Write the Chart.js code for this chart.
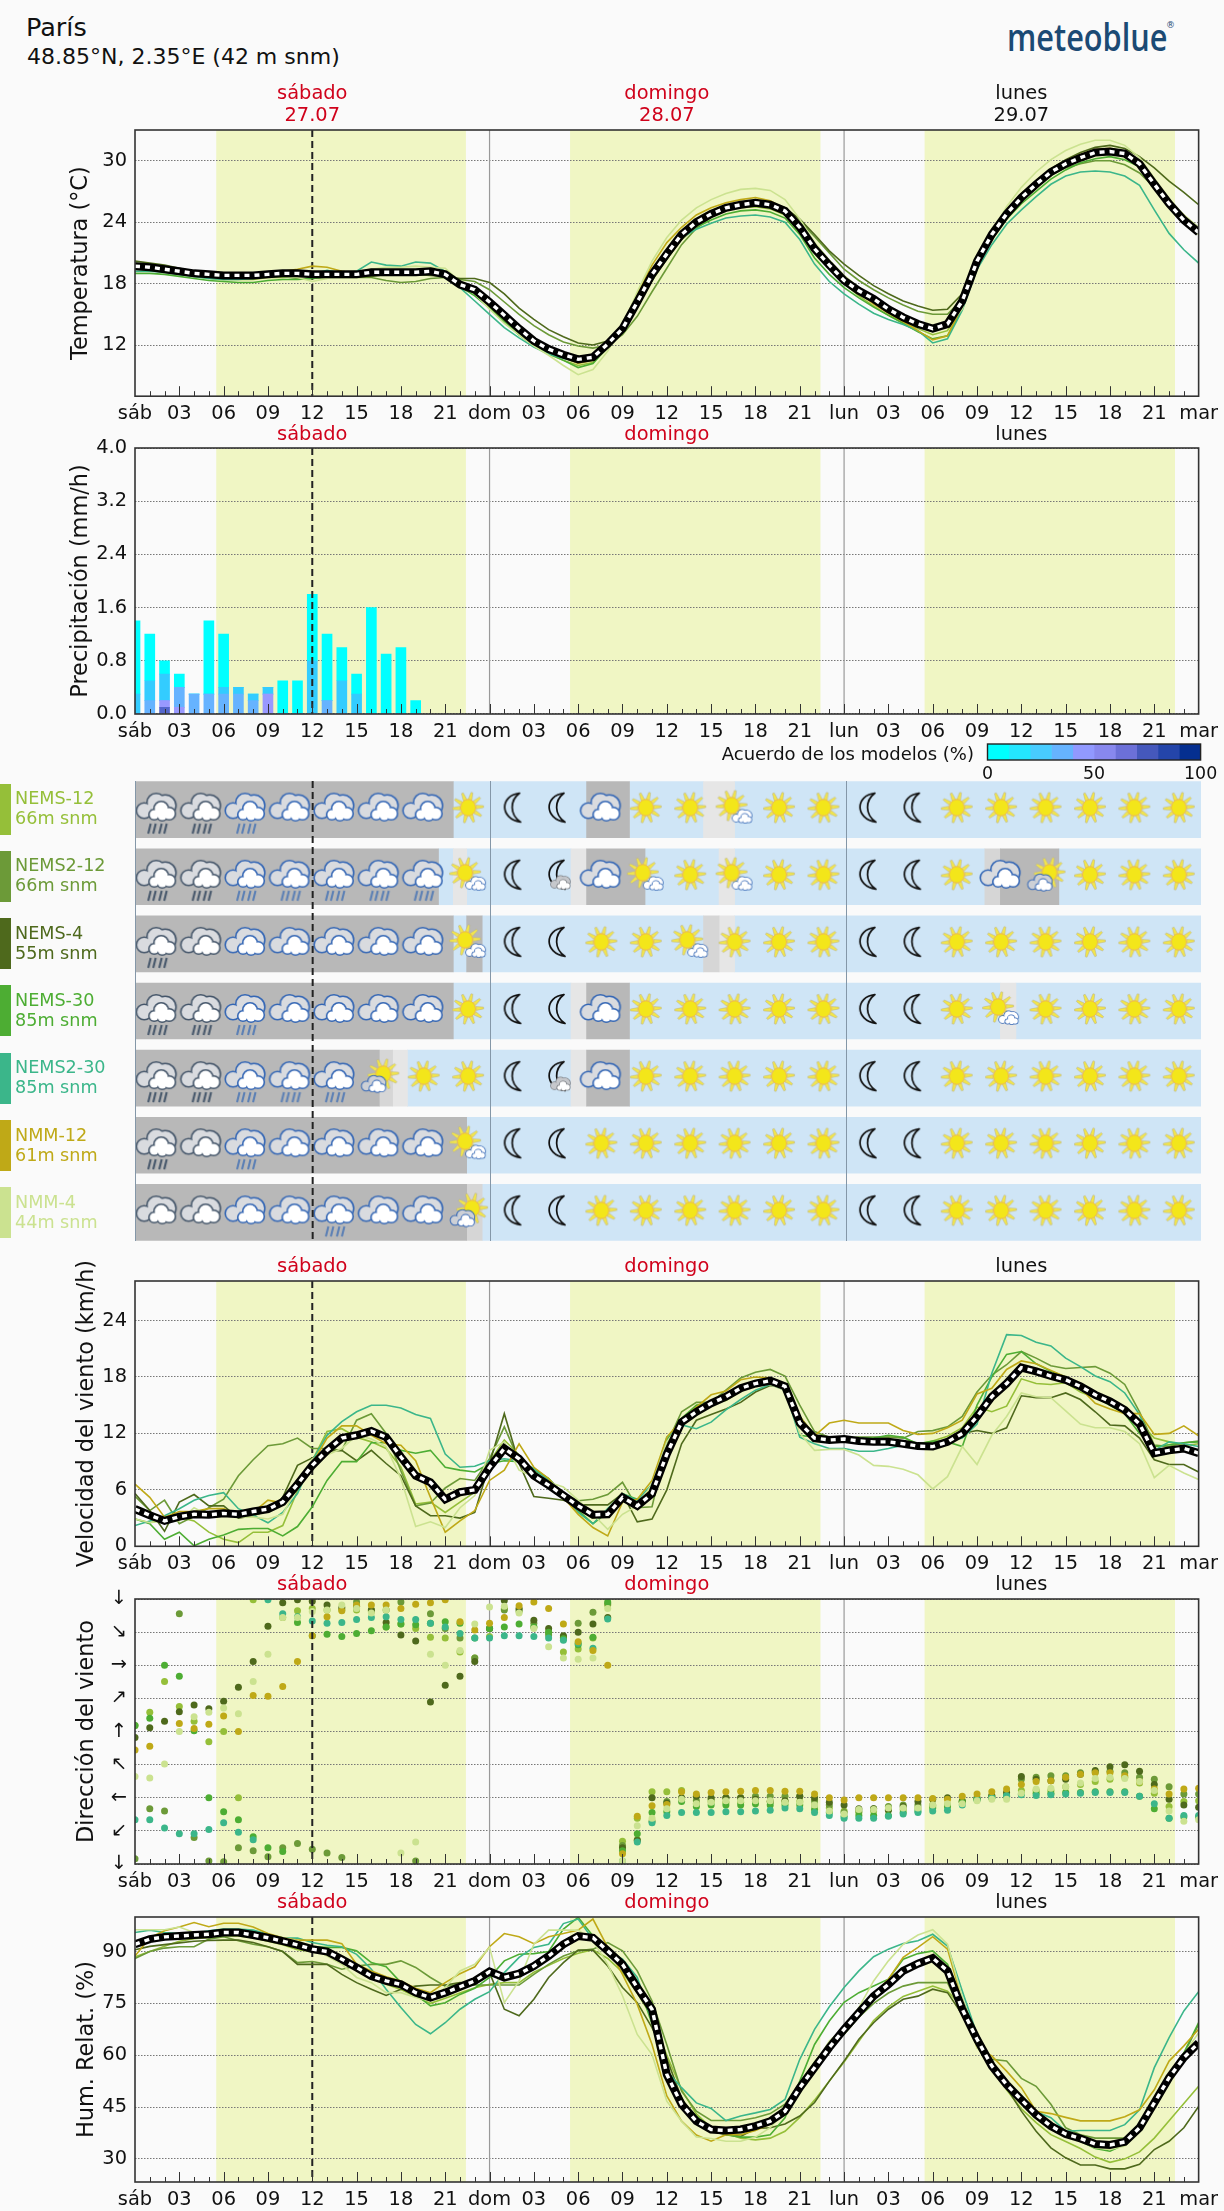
<!DOCTYPE html>
<html>
<head>
<meta charset="utf-8">
<title>París</title>
<script src="https://cdn.jsdelivr.net/npm/chart.js@4/dist/chart.umd.min.js"></script>
<style>
  html, body { margin: 0; padding: 0; background: #fafafa; overflow: hidden; }
  #page { position: relative; width: 1224px; height: 2211px; font-family: "DejaVu Sans", sans-serif; }
  canvas { position: absolute; left: 0; }
  .txt { position: absolute; white-space: nowrap; }
  .swatch { position: absolute; left: 0; width: 11px; height: 51px; }
</style>
</head>
<body>
<div id="page"></div>
<script>
// model names
var modelNames = ["NEMS-12", "NEMS2-12", "NEMS-4", "NEMS-30", "NEMS2-30", "NMM-12", "NMM-4"];
var modelHeights = ["66m snm", "66m snm", "55m snm", "85m snm", "85m snm", "61m snm", "44m snm"];
var modelColors = ["#95bf39", "#6c9a38", "#4e691c", "#4dad33", "#3bb68a", "#bfa917", "#cbe290"];

// tick labels
var xTickLabels = ["sáb","03","06","09","12","15","18","21","dom","03","06","09","12","15","18","21","lun","03","06","09","12","15","18","21","mar"];
var dayNames = ["sábado", "domingo", "lunes"];
var dayDates = ["27.07", "28.07", "29.07"];
var dayColors = ["#d0021b", "#d0021b", "#111111"];
var dayCenters = [12, 36, 60];
var sunBands = [[5.5, 22.4], [29.45, 46.4], [53.45, 70.4]];
var dayLines = [24, 48];
var nowHour = 12;

var tempTicks = [12, 18, 24, 30];
var precipTicks = [0, 0.8, 1.6, 2.4, 3.2, 4];
var windTicks = [0, 6, 12, 18, 24];
var dirTicks = [0, 45, 90, 135, 180, 225, 270, 315, 360];
var dirTickLabels = ["↓", "↙", "←", "↖", "↑", "↗", "→", "↘", "↓"];
var humTicks = [30, 45, 60, 75, 90];

// temperature, hourly
var tempMean = [19.7,19.6,19.4,19.2,19,18.9,18.8,18.8,18.8,18.9,19,19,18.9,18.9,18.9,18.9,19.1,19.1,19.1,19.1,19.2,18.9,17.9,17.4,16.2,14.9,13.6,12.4,11.6,11.05,10.6,10.8,12.1,13.6,16.2,18.9,20.9,22.8,24,24.8,25.4,25.7,25.9,25.7,25.1,23.5,21.4,19.8,18.3,17.3,16.5,15.5,14.7,14.05,13.6,14.05,16.3,20.2,22.8,24.8,26.4,27.7,28.9,29.7,30.3,30.8,30.9,30.7,29.7,27.7,25.8,24.2,23];
var tempNems12 = [19.4,19.3,19.1,18.9,18.7,18.5,18.4,18.4,18.4,18.6,18.6,18.7,18.9,19,18.9,19,19,19.2,19.3,19.3,19.4,19,17.9,17,15.8,14.3,13,11.9,11.1,10.5,10,10.3,11.7,13.5,16.4,19.3,21.3,23,24,24.7,25.2,25.4,25.5,25.3,24.7,23,21,19.5,18,16.8,15.8,14.9,14.2,13.6,13,13.4,15.7,19.8,22.6,24.8,26.5,27.9,29,29.9,30.5,30.9,31,30.6,29.5,27.5,25.5,24,22.8];
var tempNems212 = [20,19.9,19.7,19.4,19.2,19,18.9,18.9,19,19,18.7,18.5,18.5,18.6,18.6,18.6,18.6,18.3,18.1,18.2,18.5,18.6,18.4,18.2,17.4,16.2,15,13.9,13,12.3,11.9,11.7,12,13,14.8,17.2,19.5,21.8,23.4,24.5,25.3,25.8,26.1,25.9,25.4,24.1,22.6,21,19.4,18.3,17.4,16.6,15.9,15.3,15,15,16.5,20.3,22.6,24.6,26.2,27.5,28.6,29.3,29.7,30,30,29.6,28.8,27.4,26,24.6,23.3];
var tempNems4 = [20.2,20,19.8,19.5,19.2,19,18.9,18.9,19,19,19,18.9,18.7,18.7,18.7,18.7,18.7,18.9,19,18.9,18.8,18.7,18.5,18.5,18.1,17,15.6,14.5,13.5,12.8,12.2,12,12.4,13.5,15.8,18.3,20.4,22.3,23.6,24.6,25.3,25.7,25.9,25.8,25.4,24.3,22.8,21.2,19.9,18.8,17.8,17,16.3,15.8,15.4,15.5,17,20.2,22.8,25.1,26.7,28,29.2,30.1,30.8,31.3,31.5,31.2,30.4,29.3,28,26.9,25.7];
var tempNems30 = [19,19,18.9,18.7,18.5,18.3,18.2,18.1,18.1,18.3,18.4,18.4,18.5,18.7,18.7,18.9,19,19,19,19.2,19.3,19,17.7,16.8,15.6,14.3,13,12,11.2,10.5,9.8,10.2,11.8,13.8,16.5,19,21,22.6,23.5,24.2,24.8,25.1,25.2,25,24.4,22.8,20.5,18.9,17.6,16.6,15.7,14.9,14.1,13.3,12.6,12.9,15.6,19.8,22.3,24.3,25.8,27,28.2,29.1,29.8,30.2,30.4,30.1,29.4,27.7,25.6,24,23];
var tempNems230 = [19.2,19.2,19.1,18.9,18.7,18.5,18.4,18.4,18.5,18.7,18.8,18.9,18.9,19.3,19,19.2,20.1,19.8,19.7,20.1,20,19.2,17.6,16.3,15,13.7,12.7,11.8,11.1,10.7,10.3,10.7,12.1,14,16.2,18.8,20.9,22.5,23.3,23.9,24.4,24.6,24.7,24.5,24,22.3,19.9,18.2,17,16,15.1,14.5,14,13.4,12.2,12.6,15.4,19.4,21.8,23.8,25.2,26.5,27.7,28.5,28.9,29,28.9,28.5,27.6,25.2,22.9,21.3,20];
var tempNmm12 = [19.7,19.6,19.4,19.2,18.9,18.8,18.8,18.7,18.8,18.9,19.2,19.4,19.7,19.6,19.2,19,19.2,19.2,19.2,19.2,19.4,19,18,17.2,15.8,14.5,13.4,12.3,11.5,10.8,10.2,10.5,12,14,17,19.8,22,23.5,24.7,25.4,25.9,26.2,26.4,26.1,25.3,23.5,21.2,19.6,18.2,17.1,16,15.1,14.3,13.4,12.5,12.9,15.8,20.3,23,25.2,26.8,28,29.2,30,30.6,31.1,31.2,30.9,29.8,27.8,26,24.7,23.4];
var tempNmm4 = [19.5,19.4,19.2,19,18.9,18.8,18.7,18.6,18.6,18.7,18.7,18.6,18.2,18.5,18.9,19,19.4,19.6,19.6,19.7,19.6,19.5,18.2,17,15.5,14.1,13,11.9,11,10,9.1,9.6,11.4,13.8,17.2,20.2,22.5,24.2,25.4,26.2,26.8,27.2,27.3,27.1,26.2,24.3,22,20.3,18.8,17.6,16.5,15.6,14.7,13.9,13.3,13.8,15.5,20,23,25.5,27.4,28.9,30.1,31,31.6,32,32,31.5,30.3,28.3,26.3,24.7,23.5];

// precipitation, stacked by model agreement, hours 0-19
var precipIndigo = [0,0,0.1,0,0,0,0,0,0,0,0,0,0,0,0,0,0,0,0,0];
var precipViolet = [0,0,0.1,0.1,0,0,0,0,0,0.3,0,0,0,0,0,0,0,0,0,0];
var precipBlue = [0,0.2,0,0.3,0.3,0.3,0.3,0.3,0.2,0,0,0,0,0.2,0,0,0,0,0,0];
var precipSky = [0.3,0.3,0.4,0,0,0,0.1,0.1,0.1,0.1,0,0,0.8,0,0.5,0.3,0,0,0,0];
var precipCyan = [1.1,0.7,0.2,0.2,0,1.1,0.8,0,0,0,0.5,0.5,1,1,0.5,0.3,1.6,0.9,1,0.2];

// model agreement colour bar
var agreementBins = [10,10,10,10,10,10,10,10,10,10];
var agreementColors = ["#00ffff","#24e6ff","#48ccff","#66b3ff","#9199ff","#8888ee","#6c70d8","#4558bc","#2445aa","#052f90"];
var agreementTicks = [0, 50, 100];

// weather cells per model: boundaries in hours and state of each stretch
var cellBounds = [
  [0,21.5,30.5,33.4,38.4,40.5,72],
  [0,20.5,21.5,22.4,29.45,30.5,34.45,39.45,40.5,57.4,58.45,62.4,72],
  [0,21.5,22.4,23.45,38.4,39.45,40.5,72],
  [0,21.5,29.45,30.5,33.4,58.45,59.5,72],
  [0,16.5,17.4,18.4,29.45,30.5,33.4,72],
  [0,22.4,72],
  [0,22.4,23.45,72]
];
var cellStates = [
  ["dark","blue","dark","blue","light","blue"],
  ["dark","blue","light","blue","light","dark","blue","light","blue","mid","dark","blue"],
  ["dark","blue","dark","blue","mid","light","blue"],
  ["dark","blue","light","dark","blue","light","blue"],
  ["dark","mid","light","blue","light","dark","blue"],
  ["dark","blue"],
  ["dark","mid","blue"]
];
// weather icon per model, every three hours
var iconHours = [1.5,4.5,7.5,10.5,13.5,16.5,19.5,22.5,25.5,28.5,31.5,34.5,37.5,40.5,43.5,46.5,49.5,52.5,55.5,58.5,61.5,64.5,67.5,70.5];
var iconCodes = [
  ["R","R","r","c","c","c","c","S","M","M","c","S","S","s","S","S","M","M","S","S","S","S","S","S"],
  ["R","R","r","r","r","r","r","s","M","m","c","s","S","s","S","S","M","M","S","c","l","S","S","S"],
  ["R","C","c","c","c","c","c","s","M","M","S","S","s","S","S","S","M","M","S","S","S","S","S","S"],
  ["R","R","r","c","c","c","c","S","M","M","c","S","S","S","S","S","M","M","S","s","S","S","S","S"],
  ["R","R","r","r","r","l","S","S","M","m","c","S","S","S","S","S","M","M","S","S","S","S","S","S"],
  ["R","C","r","c","c","c","c","s","M","M","S","S","S","S","S","S","M","M","S","S","S","S","S","S"],
  ["C","C","c","c","r","c","c","l","M","M","S","S","S","S","S","S","M","M","S","S","S","S","S","S"]
];

// wind speed, hourly
var windMean = [3.96,3.3,2.7,3.15,3.4,3.35,3.5,3.4,3.7,3.95,4.7,6.6,8.6,10.2,11.5,11.8,12.25,11.6,9.5,7.5,6.8,5,5.75,6,8.4,10.4,9.3,7.5,6.5,5.4,4.3,3.35,3.4,5.2,4.3,5.6,9.8,13.2,14.3,15.2,15.9,16.8,17.3,17.6,17,13.1,11.5,11.3,11.4,11.2,11.1,11.1,10.9,10.65,10.6,11.1,12,13.8,15.9,17.3,19,18.6,18.1,17.7,17,16.1,15.4,14.5,13,9.9,10.2,10.4,9.9];
var windNems12 = [2.9,2.5,2.9,3.1,2.7,1.5,0.75,0.4,1.5,1.5,2.2,5.9,9.1,12.2,12.5,11.6,11.1,10.4,8.4,4.5,4.7,3.6,4.7,5.75,9,11.3,9.7,8,6.8,5.5,4.2,3,3.3,5.2,4.4,6.2,10.5,13.4,15,15.2,15.5,16.5,17.2,17.6,16.9,13.3,11.7,11.5,11.4,11.4,11.5,11.6,11.6,10.8,11.2,11.7,12.6,14.8,14.3,14.9,17.8,17.3,17.2,17.4,16.4,15.8,15.2,14.4,13.2,11.5,11.1,10.7,10.9];
var windNems212 = [5.3,3.8,4.9,2.4,3.2,4.1,5,7.5,9.2,10.7,10.9,11.5,10.4,10.4,10.2,13.4,14.1,12,8,4.3,4.6,6.2,7.2,7,9.3,12.7,9.1,8.25,7.2,5.6,4.85,5,5.5,6.8,4.1,4.2,10.9,14.3,15.3,15.3,16.6,17.9,18.5,18.8,18.1,15,12.2,11.6,11.5,11.6,11.6,11.6,11.5,12.2,12.3,12.7,13.8,16.4,18.2,19.3,20.7,20,19.2,18.9,19,19.1,18.4,17.2,14.3,10.75,10.6,11,11.2];
var windNems4 = [5.6,3.8,1.6,4.7,5.5,4.3,4.3,3,3.25,3.8,5.2,8.6,9.4,10.1,10.2,9.1,10.2,8.8,7.5,4.3,3.25,3.25,3,3.6,8.8,14.1,8.8,5.3,5.1,4.9,4.4,4.4,4.4,5.6,2.6,2.9,6,10.9,13.4,14,14.6,15.3,16.4,17.1,16.9,13.8,11.8,11.3,11.2,11.1,10.9,10.9,11.2,10.7,11.1,11.2,12,12.3,12,12.6,16,15.8,15.8,16.3,15.6,14.3,12.9,12.8,11.5,9.2,8.7,8.7,7.9];
var windNems30 = [2.9,2.4,0.75,1.5,0.05,0.75,1.2,1.8,1.9,1.9,1.1,2.1,4.2,7,9,9,11,11,10.2,9.9,10.2,8.4,8.1,7.9,8.8,9.1,9,8.1,7.2,5.4,3.8,2.4,3.6,5.6,5,5.4,11.3,13.6,15,15.2,15.7,16.8,17.5,17.9,17,11.8,11.6,11.6,11.5,11.5,11.5,11.8,11.6,10.9,11.2,11.1,10.6,15,18,20.4,20.7,19.4,18.6,18,16.8,15.9,15,14.1,12,10.6,10.8,11,11.1];
var windNems230 = [2.2,2.7,3.25,4,4.9,5.4,5.7,4,3.3,2.5,3.6,5.6,9.1,11.8,13.25,14.3,15,15,14.7,14,13.6,9.8,8.4,8.5,9.1,9.3,9.1,8.25,7,5.4,3.6,2.4,4,5.6,4.9,6.6,11.6,12.9,12.5,13.2,14.5,15.6,16.6,17.2,16.6,11.6,10.9,10.4,10.4,10.1,10.1,10.4,10.75,10.9,10.9,11.1,11.5,13,18.4,22.5,22.4,21.7,21.3,20,19.1,18.1,17.5,16.3,14,10.2,11.1,10.9,10.6];
var windNmm12 = [6.6,5.2,3.1,3.7,3.7,4,4,3.1,3.6,4.9,4.6,7,8.8,11.5,12.8,12.8,11.8,10.9,10.75,9.1,5.2,1.5,2.7,3.8,7,8.1,10.9,8.4,7.2,5.2,3.4,2,1.1,4.7,5,7,11.6,13.4,14.8,16.1,16.5,17.7,18,17.9,17,13.8,11.75,13.1,13.4,13.1,13.1,13.1,12.3,11.9,12,12.6,13.4,16.2,16.8,18.8,19.7,19.4,18.7,18,16.8,15.2,14.6,14.1,14.1,11.9,12,12.8,11.75];
var windNmm4 = [2.9,2.5,2.7,2.7,4.1,3.25,3.4,3.1,3.1,2.9,3.4,6.3,9.3,9.7,10.4,11.8,11.4,10.6,7.2,2.1,2.6,2,4.1,5.4,10.2,11.1,8.1,7.4,6.8,6.3,4.9,3.4,1.8,3.4,4.3,6.6,11.1,13.2,14.3,15.2,15.9,17,17.3,17.2,16.6,12,10.2,10.3,10.3,9.7,8.6,8.5,8.2,7.6,6.1,7.4,10.6,8.7,11.8,13.8,16.3,15.9,15.8,14.4,13,12.6,12.6,12.2,10.9,7.3,8.6,7.8,7.1];

// wind direction in degrees, hourly
var dirNems12 = [188,206,248,214,194,166,180,90,359,null,335,344,347,345,345,345,343,322,326,320,308,307,288,280,309,347,343,322,315,288,292,307,352,31,62,98,98,100,82,85,84,84,85,85,85,85,80,76,72,70,72,74,74,76,78,80,85,88,90,92,100,100,100,105,108,112,115,118,110,96,78,85,86];
var dirNems212 = [7,75,72,340,36,4,3,22,18,10,22,28,20,15,9,356,345,345,356,4,340,320,307,280,320,345,345,327,311,308,327,342,354,25,33,58,85,88,86,88,90,90,92,92,92,92,86,80,70,72,75,78,80,80,80,80,86,90,92,95,115,118,120,120,124,125,126,124,118,115,105,95,95];
var dirNems4 = [172,185,194,207,216,211,221,240,275,323,355,359,357,352,348,350,345,328,311,303,220,243,255,275,320,358,347,331,320,310,315,326,335,22,32,90,83,90,92,90,90,90,88,85,86,92,90,84,80,75,75,73,78,85,88,90,85,88,93,97,119,115,113,115,122,127,132,135,126,108,88,80,77];
var dirNems30 = [188,198,270,255,181,90,71,60,37,22,17,328,310,312,309,313,317,322,326,325,327,329,327,307,320,322,326,322,315,306,298,308,356,18,41,70,71,85,78,80,80,80,82,80,80,80,74,70,65,66,66,66,70,72,76,78,84,88,90,92,95,96,96,97,97,98,98,98,92,75,62,64,64];
var dirNems230 = [60,60,49,41,41,47,56,43,33,359,340,336,330,327,328,332,335,336,332,332,327,322,313,307,307,310,310,309,307,304,300,293,333,4,30,56,66,70,70,70,71,71,72,73,76,75,70,66,62,62,62,65,68,70,72,73,80,87,90,93,94,93,94,95,96,97,97,97,92,82,62,66,66];
var dirNmm12 = [155,160,null,191,184,190,201,180,229,228,241,275,310,336,344,352,352,352,347,353,355,359,329,318,327,335,351,356,347,326,302,290,270,14,65,79,81,98,95,97,98,99,100,100,99,99,95,90,87,90,90,90,90,90,89,88,92,95,98,102,108,112,113,118,122,124,124,120,112,102,95,102,103];
var dirNmm4 = [119,117,136,180,200,206,212,204,248,285,335,335,343,345,352,347,341,345,15,30,285,270,290,326,349,350,341,320,295,280,278,280,347,4,52,62,75,88,82,84,86,86,86,86,84,84,80,72,68,74,74,76,76,76,80,82,82,86,88,88,96,102,103,105,110,116,118,116,112,100,72,58,60];

// relative humidity, hourly
var humMean = [92.1,93.6,94.25,94.5,94.8,95,95.5,95.5,94.8,94,93,91.9,90.7,90,87.8,85.4,82.9,81.5,80.5,78.1,76.7,78.1,79.8,81.5,84.2,82.5,83.6,85.8,88.7,92.1,94.5,94,90.2,86.3,79.6,73.3,54.4,45.8,40.9,38.5,38.2,38.5,39.5,40.9,43.8,50.6,56.4,62.2,67.5,72.3,77.1,80.5,84.4,86.5,88.1,84.4,73.3,64.6,56.9,51.5,47.1,42.8,39.5,37.2,35.9,34.3,34,34.9,39,46.2,53.5,59.3,63.6];
var humNems12 = [88.5,90,91.5,93,93.7,94,94.5,94.5,94,93,92,90.5,90,89.5,88,85.5,83,80.5,79,77,75,76.5,78,79.5,80.5,81,81,84,86,88,89.5,90.5,88,84,78,71,60,50,43,39,37.5,36,35.5,36,38,42,47,52.5,58,64,70,74,77,78.5,80,78.5,74,66,58,50,44.5,40.5,37,35,33,30.5,29,30,32,36,41,46,51];
var humNems212 = [88,90,91,91.4,91.4,93.6,94.3,93.1,92.1,91.4,90,86.8,87.1,86.3,84.9,85.8,86.3,86.3,87.3,85.4,82.5,80,80.5,80.3,80.3,80.3,80.3,83.4,86.3,88.7,90.2,90.7,92.6,90.2,84.4,75.7,63,49.6,43.8,41.1,41.1,41.1,41.9,43.1,45.8,52,58,63,66,71,75,78,80,81,81,81,72,64.5,58.8,58.3,53.3,51,45.8,39,37,36,36,36,40,46.7,53.5,60.2,69];
var humNems4 = [90.5,91.5,92,92.5,93,93.2,93.3,93.3,92.6,91.4,90,86.3,86.3,86.3,83.4,81,79.1,77.3,79.1,80,80.3,80.3,81,80.5,83.9,73.3,71.4,76.2,82.5,86.8,90.4,90.4,85.8,79.6,75.2,68,59,47.5,41.5,38,37,36.5,38.8,39,40.1,42.4,46.3,52.5,58.3,64.6,69.4,73.3,76.2,77.1,79.1,78.1,71.8,65,57.3,50.6,43.8,38,33.2,30.3,28.2,28.2,27.1,27.1,28.4,32.7,35.1,39,45.2];
var humNems30 = [92,93,94,95,95,95.5,96,96,96,94.5,93,92,91.4,91.2,91.2,90.2,86.8,85.6,81,77.6,74.3,75.2,77.6,79.4,82.5,87.3,89.2,89.4,90,96.5,99.9,94.5,91.2,87.3,81.5,69,55.4,46.7,42.4,39,37,36.3,36.3,37,41.9,52.5,63.1,69.9,75.3,78.1,80,82,87.8,89.4,90.2,86.3,76.2,65.6,57.3,51.5,46.1,42.8,40.4,37.5,35.1,33,32.2,34.2,39.5,46.7,53.5,60.7,69.4];
var humNems230 = [95.5,96.2,95.5,95.2,95.2,96,96.5,96.5,96.2,95,94,93.9,92.6,91.8,91.4,89.2,84.9,79.1,73.8,68.9,66.2,69.4,73.3,76.2,78.4,83.9,88.3,91.2,92.1,98.1,99.4,93.6,90.2,87.8,82.5,69.9,55.4,50.6,46.2,44.6,41.1,42.4,43.3,44.3,47.2,58.8,67.5,74,79.6,84.4,88.5,90.7,92.3,93.1,95,91.6,78.6,66,57.3,51.5,47.1,43.6,41.9,38,38.2,38.2,38.2,39.9,44.2,56.4,65.1,72.8,78.4];
var humNmm12 = [88.7,94,96,97.1,98.4,97.2,98.2,98.2,97.1,95.2,94,93.3,93.3,93.3,92.3,86.3,84.4,82.7,81.5,79.4,78.1,81,83.6,85.6,91.4,95.2,94.3,92.3,94.3,95.2,96.2,99.4,91.2,83.4,74.7,63.1,48.2,40.9,36.9,35.1,37,37,38.2,40.1,43.2,50.6,56.4,62.2,67.5,72.8,77.6,82,88.3,91.2,94.3,90.7,75.8,62.2,59.8,55.4,50.6,43.8,43.1,42,41,41,41,42.2,44.2,50,58.3,62.7,67.5];
var humNmm4 = [96.3,96.3,96.3,97.1,95.5,95.5,95,95.2,95.2,94,93.9,93.1,91.2,88.7,86.3,82.5,81,78.1,78.1,76.7,75.7,79.6,84.4,86.3,91.2,75.2,81.5,92.1,96.2,96.2,96.2,93.1,86.3,77.2,66,60.2,46.7,40.9,36.3,35.9,35.1,35.1,36.3,39,43.8,50.6,57.3,64.1,68,73.8,81.5,87.3,92.1,94.8,96.3,92.1,76.7,62.2,57.3,52.5,46.7,43.3,39.5,37,35.1,33.2,32.7,33.7,38.1,44.8,52.6,60.2,66.5];

var page = document.getElementById("page");
var tickFont = { family: "DejaVu Sans", size: 19.4 };
var titleFont = { family: "DejaVu Sans", size: 22.4 };
var inkColor = "#111111";
Chart.defaults.animation = false;
Chart.defaults.responsive = false;
Chart.defaults.plugins.legend.display = false;
Chart.defaults.plugins.tooltip.enabled = false;

function addText(text, x, yCenter, size, color, align, extra) {
  var el = document.createElement("div");
  el.className = "txt";
  el.textContent = text;
  el.style.fontSize = size + "px";
  el.style.color = color;
  el.style.lineHeight = "30px";
  el.style.top = (yCenter - 15) + "px";
  if (align === "right") el.style.right = (1224 - x) + "px";
  else el.style.left = x + "px";
  if (extra) Object.assign(el.style, extra);
  page.appendChild(el);
  return el;
}

function addCanvas(top, height) {
  var c = document.createElement("canvas");
  c.width = 1224;
  c.height = height;
  c.style.top = top + "px";
  page.appendChild(c);
  return c;
}

function toPoints(values) {
  return values.map(function (y, x) { return { x: x, y: y }; });
}

function drawNow(chart, o) {
  var ctx = chart.ctx, a = chart.chartArea, px = chart.scales.x.getPixelForValue(nowHour);
  var top = o.lineTop === undefined ? a.top : o.lineTop;
  var bottom = o.lineBottom === undefined ? a.bottom : o.lineBottom;
  ctx.save();
  ctx.strokeStyle = "#222222";
  ctx.lineWidth = 2;
  ctx.setLineDash([7, 4]);
  ctx.beginPath();
  ctx.moveTo(px, top);
  ctx.lineTo(px, bottom);
  ctx.stroke();
  ctx.restore();
}

// background bands, day lines, hour ticks, frame and day names of a panel
var panelPlugin = {
  id: "panel",
  beforeDraw: function (chart, args, o) {
    if (!o.bands) return;
    var ctx = chart.ctx, a = chart.chartArea, x = chart.scales.x;
    ctx.save();
    ctx.fillStyle = "#f0f6c4";
    sunBands.forEach(function (b) {
      var x0 = x.getPixelForValue(b[0]), x1 = x.getPixelForValue(b[1]);
      ctx.fillRect(x0, a.top, x1 - x0, a.bottom - a.top);
    });
    ctx.restore();
  },
  beforeDatasetsDraw: function (chart, args, o) {
    var ctx = chart.ctx, a = chart.chartArea, x = chart.scales.x;
    if (!o.nowOnTop) drawNow(chart, o);
    ctx.save();
    ctx.strokeStyle = "#999999";
    ctx.lineWidth = 1.2;
    dayLines.forEach(function (h) {
      ctx.beginPath();
      ctx.moveTo(x.getPixelForValue(h), a.top);
      ctx.lineTo(x.getPixelForValue(h), a.bottom);
      ctx.stroke();
    });
    ctx.restore();
  },
  afterDatasetsDraw: function (chart, args, o) {
    var ctx = chart.ctx, a = chart.chartArea, x = chart.scales.x;
    if (o.nowOnTop) drawNow(chart, o);
    ctx.save();
    ctx.strokeStyle = "#333333";
    ctx.lineWidth = 1;
    for (var h = 1; h < 72; h++) {
      var px = Math.round(x.getPixelForValue(h)) + 0.5;
      ctx.beginPath();
      ctx.moveTo(px, a.bottom);
      ctx.lineTo(px, a.bottom - (h % 3 === 0 ? 10 : 5));
      ctx.stroke();
    }
    ctx.lineWidth = 1.6;
    ctx.strokeRect(a.left, a.top, a.right - a.left, a.bottom - a.top);
    ctx.restore();
  },
  afterDraw: function (chart, args, o) {
    var ctx = chart.ctx, x = chart.scales.x;
    ctx.save();
    ctx.font = "19.4px 'DejaVu Sans'";
    ctx.textAlign = "center";
    ctx.textBaseline = "middle";
    dayNames.forEach(function (name, i) {
      ctx.fillStyle = dayColors[i];
      ctx.fillText(name, x.getPixelForValue(dayCenters[i]), o.dayY);
      if (o.dateY) ctx.fillText(dayDates[i], x.getPixelForValue(dayCenters[i]), o.dateY);
    });
    ctx.restore();
  }
};

// one time panel; plotTop and plotBottom are page pixels of the axes box
function timePanel(plotTop, plotBottom, padTop, yMin, yMax, ticks, tickText, title, titleX, datasets, type, panelOpts) {
  var plotH = plotBottom - plotTop, below = 40;
  var height = Math.round(padTop + plotH + below);
  var canvas = addCanvas(plotTop - padTop, height);
  return new Chart(canvas.getContext("2d"), {
    type: type,
    data: { datasets: datasets },
    plugins: [panelPlugin],
    options: {
      layout: { padding: { top: padTop, right: 23, left: 0, bottom: 0 } },
      plugins: { panel: panelOpts },
      scales: {
        x: {
          type: "linear",
          min: 0,
          max: 72,
          offset: false,
          afterFit: function (s) { s.height = height - padTop - plotH; },
          grid: { display: false, drawTicks: false },
          border: { display: false },
          ticks: {
            stepSize: 3,
            autoSkip: false,
            maxRotation: 0,
            padding: 6,
            color: inkColor,
            font: tickFont,
            callback: function (v) { return xTickLabels[v / 3]; }
          }
        },
        y: {
          type: "linear",
          min: yMin,
          max: yMax,
          stacked: type === "bar",
          afterFit: function (s) { s.width = 135; },
          afterBuildTicks: function (s) { s.ticks = ticks.map(function (v) { return { value: v }; }); },
          grid: { color: "#777777", lineWidth: 1, drawTicks: false },
          border: { display: false, dash: [1.5, 1.5] },
          title: { display: true, text: title, color: inkColor, font: titleFont, padding: { top: titleX - 12, bottom: 0 } },
          ticks: {
            padding: 8,
            autoSkip: false,
            color: inkColor,
            font: tickFont,
            callback: function (v, i) { return tickText(v, i); }
          }
        }
      }
    }
  });
}

// Chart.js paints the lowest order last, so later models get a lower order
function lineDatasets(series, mean) {
  var sets = series.map(function (values, i) {
    return { data: toPoints(values), borderColor: modelColors[i], borderWidth: 1.6, pointRadius: 0, tension: 0, order: 9 - i };
  });
  sets.push({ data: toPoints(mean), borderColor: "#000000", borderWidth: 8, pointRadius: 0, tension: 0, order: 1 });
  sets.push({ data: toPoints(mean), borderColor: "#ffffff", borderWidth: 3.4, borderDash: [5, 5], pointRadius: 0, tension: 0, order: 0 });
  return sets;
}

// header
addText("París", 26, 27, 25.5, inkColor);
addText("48.85°N, 2.35°E (42 m snm)", 27, 57, 22, inkColor);
addText("meteoblue", 1007, 37, 37, "#1b4a74", "left", {
  fontFamily: "'Open Sans'", fontWeight: "600", transformOrigin: "left center", transform: "scaleX(0.83)"
});
addText("®", 1166, 25, 9, "#1b4a74");

// temperature
timePanel(129.5, 395.7, 60, 7, 33, tempTicks, function (v) { return String(v); },
  "Temperatura (°C)", 80,
  lineDatasets([tempNems12, tempNems212, tempNems4, tempNems30, tempNems230, tempNmm12, tempNmm4], tempMean),
  "line", { bands: true, dayY: 24.2, dateY: 45.5 });

// precipitation
var precipLayers = [
  { values: precipIndigo, color: "#5566cc" },
  { values: precipViolet, color: "#9999ff" },
  { values: precipBlue, color: "#66b3ff" },
  { values: precipSky, color: "#33ccff" },
  { values: precipCyan, color: "#00ffff" }
];
timePanel(448.3, 714.3, 30, 0, 4, precipTicks, function (v) { return v.toFixed(1); },
  "Precipitación (mm/h)", 80,
  precipLayers.map(function (layer) {
    return { data: toPoints(layer.values), backgroundColor: layer.color, barThickness: 10, stack: "precip" };
  }),
  "bar", { bands: true, nowOnTop: true, dayY: 16.7 });

// colour bar of the model agreement
addText("Acuerdo de los modelos (%)", 974, 754, 18, inkColor, "right");
new Chart(addCanvas(738, 48).getContext("2d"), {
  type: "bar",
  data: {
    labels: [""],
    datasets: agreementBins.map(function (bin, i) {
      return { data: [bin], backgroundColor: agreementColors[i], barPercentage: 1, categoryPercentage: 1, stack: "bar" };
    })
  },
  plugins: [{
    id: "barFrame",
    afterDraw: function (chart) {
      var a = chart.chartArea, ctx = chart.ctx;
      ctx.save();
      ctx.strokeStyle = "#222222";
      ctx.lineWidth = 1.4;
      ctx.strokeRect(a.left, a.top, a.right - a.left, a.bottom - a.top);
      ctx.restore();
    }
  }],
  options: {
    indexAxis: "y",
    layout: { padding: { left: 987.5, right: 23.4, top: 6, bottom: 0 } },
    scales: {
      x: {
        type: "linear",
        min: 0,
        max: 100,
        stacked: true,
        afterFit: function (s) { s.height = 26; },
        afterBuildTicks: function (s) { s.ticks = agreementTicks.map(function (v) { return { value: v }; }); },
        grid: { display: false, drawTicks: false },
        border: { display: false },
        ticks: { padding: 4, color: inkColor, font: { family: "DejaVu Sans", size: 17.4 }, maxRotation: 0, autoSkip: false }
      },
      y: { display: false, stacked: true }
    }
  }
});

// weather icons as point styles
function blob(g, circles, fill, stroke, lw) {
  g.strokeStyle = stroke;
  g.lineWidth = lw * 2;
  circles.forEach(function (c) { g.beginPath(); g.arc(c[0], c[1], c[2], 0, Math.PI * 2); g.stroke(); });
  g.fillStyle = fill;
  circles.forEach(function (c) { g.beginPath(); g.arc(c[0], c[1], c[2], 0, Math.PI * 2); g.fill(); });
}
function cloud(g, x, y, s, backFill, stroke) {
  g.save();
  g.translate(x, y);
  g.scale(s, s);
  blob(g, [[-13, 3, 7], [-1, -5, 8.5], [8, -2, 10]], backFill, stroke, 1.6);
  blob(g, [[-3, 7, 4.5], [4, 1, 6.5], [12, 6, 5.5], [5, 8, 4.5]], "#ffffff", stroke, 1.6);
  g.restore();
}
function rain(g, color) {
  g.strokeStyle = color;
  g.lineWidth = 2;
  [-8, -3, 3, 8].forEach(function (x) {
    g.beginPath();
    g.moveTo(x + 1.5, 16);
    g.lineTo(x - 1, 26);
    g.stroke();
  });
}
function sun(g, x, y) {
  g.save();
  g.translate(x, y);
  for (var k = 0; k < 10; k++) {
    g.save();
    g.rotate(k * Math.PI / 5 + 0.25);
    g.fillStyle = "#f3e64a";
    g.strokeStyle = "#b7b18a";
    g.lineWidth = 0.5;
    g.beginPath();
    g.moveTo(-1.9, -8);
    g.lineTo(1.9, -8);
    g.lineTo(0.9, -15.5);
    g.lineTo(-0.9, -15.5);
    g.closePath();
    g.fill();
    g.stroke();
    g.restore();
  }
  g.fillStyle = "#f3e61a";
  g.strokeStyle = "#efb94a";
  g.lineWidth = 1;
  g.beginPath();
  g.ellipse(0, 0, 7.5, 8.2, 0, 0, Math.PI * 2);
  g.fill();
  g.stroke();
  g.restore();
}
function moon(g) {
  g.strokeStyle = "#111111";
  g.lineWidth = 1.7;
  g.lineJoin = "round";
  g.beginPath();
  g.moveTo(7, -14.5);
  g.bezierCurveTo(-13, -12, -13, 11, 8, 14.5);
  g.bezierCurveTo(-3, 7, -3, -7, 7, -14.5);
  g.closePath();
  g.stroke();
}
function makeIcon(code) {
  var c = document.createElement("canvas");
  c.width = 64;
  c.height = 64;
  var g = c.getContext("2d");
  g.translate(32, 30);
  if (code === "R") { cloud(g, 0, 0, 1, "#d9dbdf", "#45566a"); rain(g, "#45566a"); }
  if (code === "r") { cloud(g, 0, 0, 1, "#d9dbdf", "#3567b5"); rain(g, "#5a7fb5"); }
  if (code === "C") cloud(g, 0, 0, 1, "#d9dbdf", "#45566a");
  if (code === "c") cloud(g, 0, 0, 1, "#d9dbdf", "#3567b5");
  if (code === "S") sun(g, 0, 0);
  if (code === "s") { sun(g, -3, -2); cloud(g, 8, 9, 0.5, "#ffffff", "#3567b5"); }
  if (code === "l") { sun(g, 4, -2); cloud(g, -5, 8, 0.62, "#cdd0d6", "#3567b5"); }
  if (code === "M") moon(g);
  if (code === "m") { moon(g); cloud(g, 4, 8, 0.5, "#c6c8cc", "#7c7f84"); }
  return c;
}
var iconCache = {};
function iconFor(code) {
  if (!iconCache[code]) iconCache[code] = makeIcon(code);
  return iconCache[code];
}

// weather rows
var stateColors = { dark: "#b8b8b8", mid: "#d6d6d6", light: "#e6e6e6", blue: "#cfe5f6" };
var rowSets = [];
Object.keys(stateColors).forEach(function (state) {
  var segments = [];
  cellStates.forEach(function (row, r) {
    row.forEach(function (s, i) {
      if (s === state) segments.push({ x: [cellBounds[r][i], cellBounds[r][i + 1]], y: modelNames[r] });
    });
  });
  rowSets.push({
    type: "bar",
    indexAxis: "y",
    data: segments,
    backgroundColor: stateColors[state],
    barThickness: 56,
    grouped: false,
    order: 2
  });
});
iconCodes.forEach(function (codes, r) {
  rowSets.push({
    type: "scatter",
    data: codes.map(function (code, i) { return { x: iconHours[i], y: modelNames[r] }; }),
    pointStyle: codes.map(iconFor),
    pointRadius: 5,
    order: 1
  });
});
new Chart(addCanvas(770, 482).getContext("2d"), {
  type: "bar",
  data: { labels: modelNames, datasets: rowSets },
  plugins: [{
    id: "rowLines",
    afterDatasetsDraw: function (chart) {
      var ctx = chart.ctx, x = chart.scales.x;
      ctx.save();
      ctx.strokeStyle = "#8497a8";
      ctx.lineWidth = 1;
      [0, 24, 48].forEach(function (h) {
        var px = Math.round(x.getPixelForValue(h)) + 0.5;
        ctx.beginPath();
        ctx.moveTo(px, 11);
        ctx.lineTo(px, 471);
        ctx.stroke();
      });
      ctx.restore();
      drawNow(chart, { lineTop: 11, lineBottom: 471 });
    }
  }],
  options: {
    layout: { padding: { left: 135, right: 23, top: 5.33, bottom: 5.33 } },
    scales: {
      x: { type: "linear", min: 0, max: 72, offset: false, display: false },
      y: { type: "category", labels: modelNames, offset: true, display: false }
    }
  }
});

// model legend
modelNames.forEach(function (name, i) {
  var center = 809 + i * 67.33;
  var sw = document.createElement("div");
  sw.className = "swatch";
  sw.style.top = (center - 25.5) + "px";
  sw.style.background = modelColors[i];
  page.appendChild(sw);
  addText(name, 15, center - 11, 17.6, modelColors[i]);
  addText(modelHeights[i], 15, center + 9, 17.6, modelColors[i]);
});

// wind speed
timePanel(1280.7, 1546, 30, 0, 28.2, windTicks, function (v) { return String(v); },
  "Velocidad del viento (km/h)", 86,
  lineDatasets([windNems12, windNems212, windNems4, windNems30, windNems230, windNmm12, windNmm4], windMean),
  "line", { bands: true, dayY: 16 });

// wind direction
var dirSeries = [dirNems12, dirNems212, dirNems4, dirNems30, dirNems230, dirNmm12, dirNmm4];
timePanel(1599.3, 1864.3, 30, 0, 360, dirTicks, function (v, i) { return dirTickLabels[i]; },
  "Dirección del viento", 86,
  dirSeries.map(function (values, i) {
    return { data: toPoints(values), backgroundColor: modelColors[i], borderColor: modelColors[i], pointRadius: 3.5, borderWidth: 0, showLine: false, order: 9 - i };
  }),
  "scatter", { bands: true, nowOnTop: true, dayY: 16.4 });

// relative humidity
timePanel(1917.3, 2182.3, 30, 23.3, 100, humTicks, function (v) { return String(v); },
  "Hum. Relat. (%)", 86,
  lineDatasets([humNems12, humNems212, humNems4, humNems30, humNems230, humNmm12, humNmm4], humMean),
  "line", { bands: true, dayY: 16.4 });
</script>
</body>
</html>
